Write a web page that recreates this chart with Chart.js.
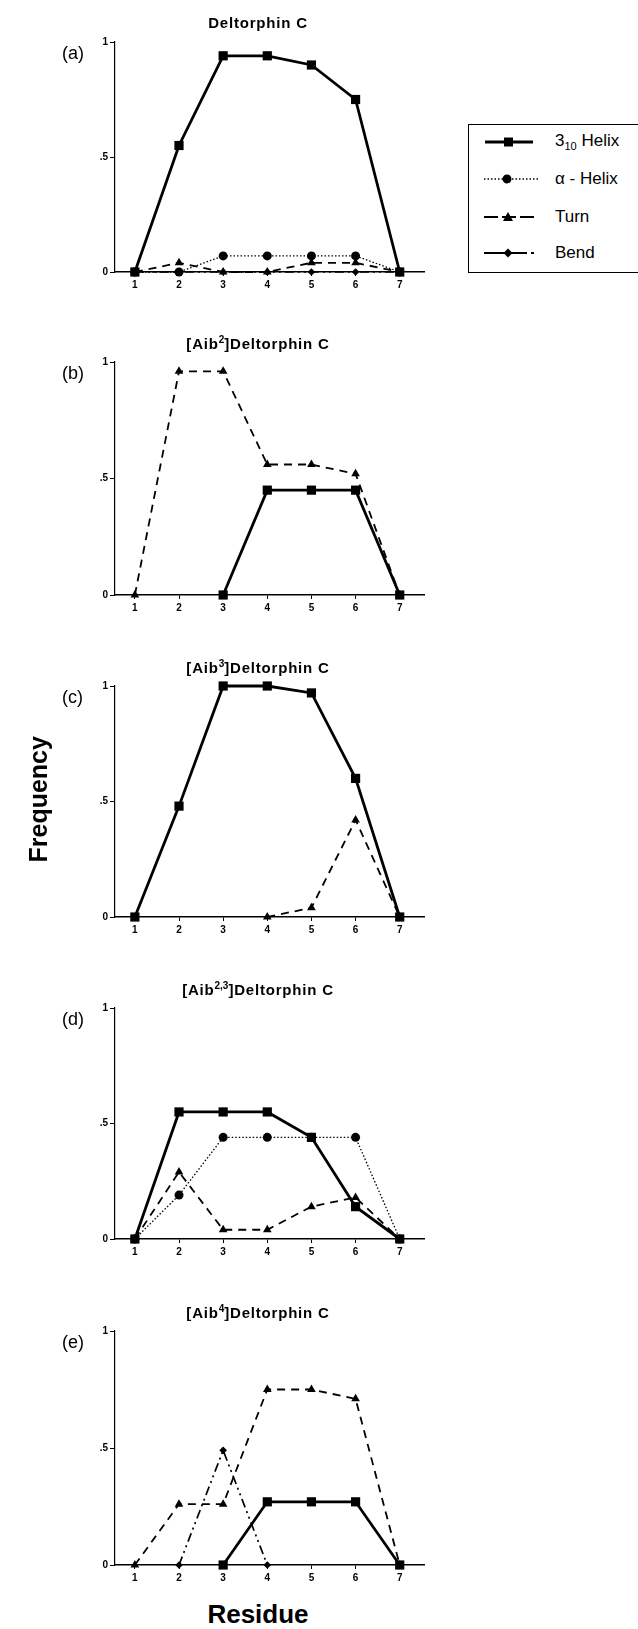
<!DOCTYPE html>
<html>
<head>
<meta charset="utf-8">
<script src="https://cdn.jsdelivr.net/npm/chart.js@4.4.1/dist/chart.umd.min.js"></script>
<style>
  html, body { margin: 0; padding: 0; background: #fff; }
  body { width: 638px; height: 1629px; position: relative; overflow: hidden; font-family: "Liberation Sans", Arial, sans-serif; color: #000; }
  .panel-canvas { position: absolute; left: 0; }
  .title { position: absolute; width: 300px; left: 108px; text-align: center; font-weight: bold; font-size: 15px; letter-spacing: 0.8px; }
  .title sup { font-size: 10px; letter-spacing: 0; }
  .tag { position: absolute; left: 62px; font-size: 18px; }
  .axis-label { position: absolute; font-weight: bold; font-size: 25px; }
  #legend { position: absolute; left: 468px; top: 124px; width: 180px; height: 147px; border: 1.5px solid #000; }
  .leg-row { position: absolute; left: 14px; height: 20px; display: flex; align-items: center; }
  .leg-row span { margin-left: 16px; font-size: 17px; }
</style>
</head>
<body>

<script>
// residue positions and axis ticks
const residues = [1, 2, 3, 4, 5, 6, 7];
const xTicks = [1, 2, 3, 4, 5, 6, 7];
const yTicks = [0, 0.5, 1];
const yTickLabels = ['0', '.5', '1'];

// (a) Deltorphin C
const helixA = [0, 0.55, 0.94, 0.94, 0.90, 0.75, 0];
const alphaA = [0, 0, 0.07, 0.07, 0.07, 0.07, 0];
const turnA  = [0, 0.04, 0, 0, 0.04, 0.04, 0];
const bendA  = [0, 0, 0, 0, 0, 0, 0];

// (b) [Aib2]Deltorphin C
const helixB = [null, null, 0, 0.45, 0.45, 0.45, 0];
const turnB  = [0, 0.96, 0.96, 0.56, 0.56, 0.52, 0];

// (c) [Aib3]Deltorphin C
const helixC = [0, 0.48, 1.0, 1.0, 0.97, 0.60, 0];
const turnC  = [null, null, null, 0, 0.04, 0.42, 0];

// (d) [Aib2,3]Deltorphin C
const helixD = [0, 0.55, 0.55, 0.55, 0.44, 0.14, 0];
const alphaD = [0, 0.19, 0.44, 0.44, 0.44, 0.44, 0];
const turnD  = [0, 0.29, 0.04, 0.04, 0.14, 0.18, 0];

// (e) [Aib4]Deltorphin C
const helixE = [null, null, 0, 0.27, 0.27, 0.27, 0];
const turnE  = [0, 0.26, 0.26, 0.75, 0.75, 0.71, 0];
const bendE  = [null, 0, 0.49, 0, null, null, null];

const styles = {
    helix: { borderWidth: 2.8, borderDash: [], pointStyle: 'rect', pointRadius: 6.5 },
    alpha: { borderWidth: 1.3, borderDash: [1.5, 2], pointStyle: 'circle', pointRadius: 4.5 },
    turn:  { borderWidth: 1.8, borderDash: [8, 6], pointStyle: 'triangle', pointRadius: 5 },
    bend:  { borderWidth: 1.7, borderDash: [9, 4, 2, 4, 2, 4], pointStyle: 'rectRot', pointRadius: 3.8 }
};

const panels = [
    { tag: '(a)', title: 'Deltorphin C', top: 42, bottom: 272, series: [['bend', bendA], ['turn', turnA], ['alpha', alphaA], ['helix', helixA]] },
    { tag: '(b)', title: '[Aib<sup>2</sup>]Deltorphin C', top: 362, bottom: 595, series: [['turn', turnB], ['helix', helixB]] },
    { tag: '(c)', title: '[Aib<sup>3</sup>]Deltorphin C', top: 686, bottom: 917, series: [['turn', turnC], ['helix', helixC]] },
    { tag: '(d)', title: '[Aib<sup>2,3</sup>]Deltorphin C', top: 1008, bottom: 1239, series: [['turn', turnD], ['alpha', alphaD], ['helix', helixD]] },
    { tag: '(e)', title: '[Aib<sup>4</sup>]Deltorphin C', top: 1331, bottom: 1565, series: [['bend', bendE], ['turn', turnE], ['helix', helixE]] }
];

const padTop = 20;
const xAxisH = 30;
const yAxisW = 115;
const canvasW = 460;
const plotRight = 424;

panels.forEach((p) => {
    const h = padTop + (p.bottom - p.top) + xAxisH;
    const canvas = document.createElement('canvas');
    canvas.className = 'panel-canvas';
    canvas.style.top = (p.top - padTop) + 'px';
    canvas.style.width = canvasW + 'px';
    canvas.style.height = h + 'px';
    canvas.width = canvasW;
    canvas.height = h;
    document.body.appendChild(canvas);

    const title = document.createElement('div');
    title.className = 'title';
    title.style.top = (p.top - 28) + 'px';
    title.innerHTML = p.title;
    document.body.appendChild(title);

    const tag = document.createElement('div');
    tag.className = 'tag';
    tag.style.top = (p.top + 1) + 'px';
    tag.textContent = p.tag;
    document.body.appendChild(tag);

    const datasets = p.series.map(([kind, values]) => ({
        label: kind,
        data: residues.map((r, i) => ({ x: r, y: values[i] })),
        borderColor: '#000',
        backgroundColor: '#000',
        pointBackgroundColor: '#000',
        pointBorderColor: '#000',
        pointBorderWidth: 0,
        borderWidth: styles[kind].borderWidth,
        borderDash: styles[kind].borderDash,
        pointStyle: styles[kind].pointStyle,
        pointRadius: styles[kind].pointRadius,
        tension: 0,
        spanGaps: false,
        clip: false
    }));

    new Chart(canvas.getContext('2d'), {
        type: 'line',
        data: { datasets: datasets },
        options: {
            responsive: false,
            animation: false,
            layout: { padding: { top: padTop, right: canvasW - plotRight, bottom: 0, left: 0 } },
            plugins: { legend: { display: false }, tooltip: { enabled: false } },
            scales: {
                x: {
                    type: 'linear',
                    min: 0.55,
                    max: 7.55,
                    afterBuildTicks: (scale) => { scale.ticks = xTicks.map(v => ({ value: v })); },
                    afterFit: (scale) => { scale.height = xAxisH; },
                    border: { display: true, color: '#000', width: 1.5 },
                    grid: { drawOnChartArea: false, drawTicks: true, tickLength: 4, color: '#000', lineWidth: 1 },
                    ticks: {
                        color: '#000',
                        padding: 3,
                        maxRotation: 0,
                        font: { family: 'Liberation Sans', size: 10, weight: 'bold' },
                        callback: (v) => String(v)
                    }
                },
                y: {
                    min: 0,
                    max: 1,
                    afterBuildTicks: (scale) => { scale.ticks = yTicks.map(v => ({ value: v })); },
                    afterFit: (scale) => { scale.width = yAxisW; },
                    border: { display: true, color: '#000', width: 1.2 },
                    grid: { drawOnChartArea: false, drawTicks: true, tickLength: 5, color: '#000', lineWidth: 1 },
                    ticks: {
                        color: '#000',
                        padding: 2,
                        font: { family: 'Liberation Sans', size: 10, weight: 'bold' },
                        callback: (v) => yTickLabels[yTicks.indexOf(v)]
                    }
                }
            }
        }
    });
});
</script>

<div class="axis-label" style="left:-25px; top:785px; transform: rotate(-90deg); transform-origin: 50% 50%; width:126px; text-align:center;">Frequency</div>
<div class="axis-label" style="left:158px; top:1599px; width:200px; text-align:center; font-size:26px;">Residue</div>

<div id="legend">
  <div class="leg-row" style="top:7px">
    <svg width="56" height="14"><line x1="2" y1="7" x2="50" y2="7" stroke="#000" stroke-width="2.8"/><rect x="21" y="2.5" width="9" height="9" fill="#000"/></svg>
    <span>3<sub style="font-size:11px">10</sub> Helix</span>
  </div>
  <div class="leg-row" style="top:44px">
    <svg width="56" height="14"><line x1="1" y1="7" x2="55" y2="7" stroke="#000" stroke-width="1.3" stroke-dasharray="1.5 2"/><circle cx="24" cy="7" r="4.5" fill="#000"/></svg>
    <span>α - Helix</span>
  </div>
  <div class="leg-row" style="top:82px">
    <svg width="56" height="14"><line x1="1" y1="7" x2="53" y2="7" stroke="#000" stroke-width="2" stroke-dasharray="14 4"/><polygon points="25,2 30,11 20,11" fill="#000"/></svg>
    <span>Turn</span>
  </div>
  <div class="leg-row" style="top:118px">
    <svg width="56" height="14"><line x1="1" y1="7" x2="44" y2="7" stroke="#000" stroke-width="2"/><line x1="48" y1="7" x2="51" y2="7" stroke="#000" stroke-width="2"/><polygon points="25,2.5 29.5,7 25,11.5 20.5,7" fill="#000"/></svg>
    <span>Bend</span>
  </div>
</div>

</body>
</html>
